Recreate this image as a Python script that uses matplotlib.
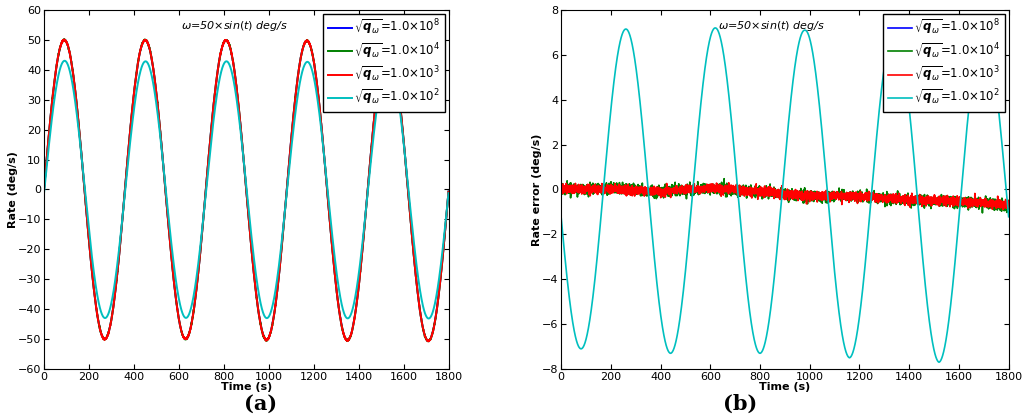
import numpy as np
import matplotlib
matplotlib.use("Agg")
import matplotlib.pyplot as plt

amp_true = 50.0
period = 360.0
t = np.linspace(0, 1800, 3601)
labels = [r"$\sqrt{\boldsymbol{q}_{\omega}}$=1.0×10$^8$", r"$\sqrt{\boldsymbol{q}_{\omega}}$=1.0×10$^4$",
          r"$\sqrt{\boldsymbol{q}_{\omega}}$=1.0×10$^3$", r"$\sqrt{\boldsymbol{q}_{\omega}}$=1.0×10$^2$"]
colors = ["#0000ff", "#008000", "#ff0000", "#00bfbf"]
# cyan error extremes (half-cycle by half-cycle), phase shift
cyan_peak_times = [80, 260, 440, 620, 800, 980, 1160, 1340, 1520, 1700]
cyan_peak_vals = [-7.1, 7.15, -7.3, 7.2, -7.3, 7.1, -7.5, 7.0, -7.7, 7.0]
cyan_phase = 170.0
# slow drift of red/green errors
drift_t = [0, 200, 400, 600, 800, 1000, 1200, 1400, 1600, 1800]
drift_v = [0.0, 0.05, -0.1, 0.05, -0.1, -0.3, -0.3, -0.5, -0.55, -0.7]
noise_amp = [0.0, 0.12, 0.1, 0.0]

true = amp_true * np.sin(2 * np.pi * t / period)
env = np.interp(t, cyan_peak_times, np.abs(cyan_peak_vals))
err_c = env * np.sin(2 * np.pi * (t - cyan_phase) / period)
drift = np.interp(t, drift_t, drift_v)
rng = np.random.default_rng(1)
errs = [drift * 0.9 + rng.normal(0, 0.03, t.size),
        drift + rng.normal(0, noise_amp[1], t.size),
        drift * 0.95 + rng.normal(0, noise_amp[2], t.size),
        err_c]

fig = plt.figure(figsize=(10.24, 4.16), dpi=100)
ax1 = fig.add_axes([0.043, 0.113, 0.395, 0.863])
ax2 = fig.add_axes([0.548, 0.113, 0.437, 0.863])
for i in range(4):
    ax1.plot(t, true + errs[i], color=colors[i], lw=1.4, label=labels[i])
    ax2.plot(t, errs[i], color=colors[i], lw=1.2, label=labels[i])
ax1.set_ylim(-60, 60); ax1.set_yticks(range(-60, 61, 10))
ax2.set_ylim(-8, 8); ax2.set_yticks(range(-8, 9, 2))
for ax, yl in [(ax1, "Rate (deg/s)"), (ax2, "Rate error (deg/s)")]:
    ax.set_xlim(0, 1800); ax.set_xticks(range(0, 1801, 200))
    ax.tick_params(direction="in", labelsize=8, top=True, right=True, pad=2)
    ax.set_xlabel("Time (s)", fontsize=8, fontweight="bold", labelpad=0)
    ax.set_ylabel(yl, fontsize=8, fontweight="bold", labelpad=0)
    ax.text(0.47, 0.955, r"$\omega$=50×$sin(t)$ deg/s", transform=ax.transAxes, fontsize=8,
            style="italic", ha="center", va="center")
    leg = ax.legend(loc="upper right", fontsize=8.5, handlelength=2.0, borderaxespad=0.3,
                    fancybox=False, framealpha=1, edgecolor="black", labelspacing=0.35,
                    handletextpad=0.2)
fig.text(0.254, 0.03, "(a)", fontsize=15, fontweight="bold", family="DejaVu Serif", ha="center", va="center")
fig.text(0.723, 0.03, "(b)", fontsize=15, fontweight="bold", family="DejaVu Serif", ha="center", va="center")
fig.savefig("out.png", dpi=100)
